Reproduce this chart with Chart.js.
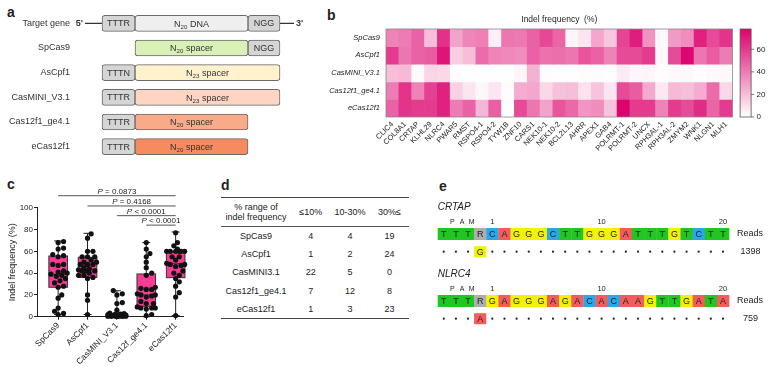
<!DOCTYPE html>
<html><head><meta charset="utf-8">
<script src="https://cdn.jsdelivr.net/npm/chart.js@4.4.1/dist/chart.umd.min.js"></script>
<style>
html,body{margin:0;padding:0;background:#fff;}
body{width:773px;height:367px;position:relative;overflow:hidden;font-family:"Liberation Sans",Arial,sans-serif;color:#222;}
canvas{position:absolute;}
.pl{position:absolute;font-weight:bold;font-size:14px;line-height:14px;}
.t{position:absolute;line-height:11px;white-space:nowrap;transform:translate(-50%,-50%);text-align:center;color:#222;}
.rule{position:absolute;}
</style></head><body>
<div class="pl" style="left:7px;top:5px">a</div>
<div class="pl" style="left:327px;top:8px">b</div>
<div class="pl" style="left:7px;top:177px">c</div>
<div class="pl" style="left:221px;top:178px">d</div>
<div class="pl" style="left:439px;top:179px">e</div>
<canvas id="ca" width="320" height="170" style="left:0;top:0;width:320px;height:170px"></canvas>
<canvas id="cb" width="453" height="170" style="left:320px;top:0;width:453px;height:170px"></canvas>
<canvas id="cc" width="200" height="197" style="left:0;top:170px;width:200px;height:197px"></canvas>
<canvas id="ce" width="343" height="197" style="left:430px;top:170px;width:343px;height:197px"></canvas>
<div id="tbl"></div>
<script>
const FF='"Liberation Sans", Arial, Helvetica, sans-serif';
Chart.defaults.font.family=FF;
Chart.defaults.color='#222';
Chart.defaults.animation=false;

// ================= DATA =================
// Panel a (schematic segments, lengths in schematic units)
const rowNamesA=['Target gene','SpCas9','AsCpf1','CasMINI_V3.1','Cas12f1_ge4.1','eCas12f1'];
const pam5Seg=[[0,33],null,[0,33],[0,33],[0,33],[0,33]];
const spacerSeg=[[33,146],[33,146],[33,178],[33,178],[33,146],[33,146]];
const pam3Seg=[[146,178],[146,178],null,null,null,null];
const pam5Text=['TTTR',null,'TTTN','TTTR','TTTR','TTTR'];
const spacerLen=['20','20','23','23','20','20'];
const spacerWord=[' DNA',' spacer',' spacer',' spacer',' spacer',' spacer'];
const pam3Text=['NGG','NGG',null,null,null,null];
const spacerColors=['#efefef','#d9f0b6','#fff2cc','#fdd5c2','#f9aa88','#f58b5e'];

// Panel b heatmap
const genes=['CLIC4','COL8A1','CRTAP','KLHL29','NLRC4','PWAR5','RMST','RSPO4-1','RSPO4-2','TYW1B','ZNF10','CARS1','NEK10-1','NEK10-2','BCL2L13','AHRR','APEX1','GAB4','POLRMT-1','POLRMT-2','UNCX','RPH3AL-1','RPH3AL-2','ZMYM2','WNK1','NLGN1','MLH1'];
const rowNamesB=['SpCas9','AsCpf1','CasMINI_V3.1','Cas12f1_ge4.1','eCas12f1'];
const spCas9 =[38,40,48,20,63,28,37,39,5,42,41,48,56,47,3,8,27,17,57,69,33,2,31,35,68,55,62];
const asCpf1 =[60,42,48,50,72,15,20,45,38,36,35,48,43,44,42,52,48,38,55,55,60,2,55,76,42,50,40];
const casMini=[20,21,1.5,13,12,0.5,0.3,0.2,0.4,0.3,2.5,24,0.8,0.5,0.6,1.0,1.2,0.8,6,2.8,3.2,1.0,1.5,2.0,0.9,1.5,2.2];
const cas12f1=[40,62,38,58,68,14,8,2,8,1,25,27,12,19,20,9,18,8,55,50,26,7,21,20,25,45,12];
const eCas12f1=[48,62,60,60,68,40,48,22,49,1,55,42,28,52,46,32,35,18,77,60,60,38,60,55,65,47,60];
const colorbarMax=78;
const colorbarTicks=[0,20,40,60];
const heatTitle='Indel frequency  (%)';

// Panel c box plot
const boxLabels=['SpCas9','AsCpf1','CasMINI_V3.1','Cas12f_ge4.1','eCas12f1'];
const boxMin=[2,2,0,0,1];
const boxQ1=[27,36,0.3,9.5,35.8];
const boxMed=[39,43.5,1,20,48.6];
const boxQ3=[55.7,54.5,3,39.2,59.7];
const boxMax=[69.5,76.5,23.8,68,77.7];
const yTicksC=[0,20,40,60,80,100];
const pFrom=[0,1,2,3], pTo=[4,4,4,4];
const pText=['= 0.0873','= 0.4168','< 0.0001','< 0.0001'];
const pLevel=[111,101.6,92.7,84];

// Panel d table
const tableHead=['\u226410%','10-30%','30%\u2264'];
const tableRows=['SpCas9','AsCpf1','CasMINI3.1','Cas12f1_ge4.1','eCas12f1'];
const cntLow=[4,1,22,7,1];
const cntMid=[4,2,5,12,3];
const cntHigh=[19,24,0,8,23];

// Panel e sequences
const seqNames=['CRTAP','NLRC4'];
const seqRef=['TTTRCAGGGCTTGGGATTTGTCTT','TTTRGAGGGAGACACAAGTTGATA'];
const seqMut=['G','A'];
const mutPos=3;
const seqReads=[1398,759];
const posLabels=['1','10','20'];
const posIndex=[4,13,23];

// ================= HELPERS =================
function heat(v){
  const t=Math.max(0,Math.min(1,v/colorbarMax));
  const r=Math.round(255+(220-255)*t), g=Math.round(255+(0-255)*t), b=Math.round(255+(108-255)*t);
  return `rgb(${r},${g},${b})`;
}
const noInt={legend:{display:false},tooltip:{enabled:false}};

// ================= PANEL A =================
function segData(seg){return seg.map((s,i)=>s?{y:rowNamesA[i],x:s,ri:i}:null).filter(Boolean);}
const greyFill='#d5d5d5';
function drawSubText(ctx,main,sub,rest,cx,cy,size){
  ctx.font=size+'px '+FF; const w1=ctx.measureText(main).width;
  ctx.font=(size*0.68)+'px '+FF; const w2=ctx.measureText(sub).width;
  ctx.font=size+'px '+FF; const w3=ctx.measureText(rest).width;
  let x=cx-(w1+w2+w3)/2; const base=cy+size*0.36;
  ctx.textAlign='left'; ctx.textBaseline='alphabetic';
  ctx.font=size+'px '+FF; ctx.fillText(main,x,base); x+=w1;
  ctx.font=(size*0.68)+'px '+FF; ctx.fillText(sub,x,base+2.2); x+=w2;
  ctx.font=size+'px '+FF; ctx.fillText(rest,x,base);
}
new Chart(document.getElementById('ca'),{
  type:'bar',
  data:{labels:rowNamesA,datasets:[
    {data:segData(pam5Seg),backgroundColor:greyFill},
    {data:segData(spacerSeg),backgroundColor:c=>spacerColors[c.raw?c.raw.ri:0]},
    {data:segData(pam3Seg),backgroundColor:greyFill}
  ].map(d=>Object.assign(d,{grouped:false,barThickness:16,borderWidth:1,borderColor:'#6a6a6a',borderRadius:3,borderSkipped:false}))},
  options:{indexAxis:'y',responsive:false,animation:false,events:[],
    layout:{padding:{top:11,bottom:11,left:0,right:0}},
    plugins:noInt,
    scales:{x:{type:'linear',min:-102,max:218,display:false},y:{type:'category',display:false}}},
  plugins:[{id:'schem',afterDatasetsDraw(chart){
    const ctx=chart.ctx,xs=chart.scales.x,ys=chart.scales.y;
    ctx.save(); ctx.fillStyle='#333';
    rowNamesA.forEach((n,i)=>{
      const y=ys.getPixelForValue(i);
      ctx.font='9px '+FF; ctx.textAlign='right'; ctx.textBaseline='middle';
      ctx.fillText(n,xs.getPixelForValue(-32),y);
      if(pam5Seg[i]&&pam5Text[i]){ctx.font='9px '+FF;ctx.textAlign='center';ctx.textBaseline='middle';
        ctx.fillText(pam5Text[i],xs.getPixelForValue((pam5Seg[i][0]+pam5Seg[i][1])/2),y+0.5);}
      if(pam3Seg[i]&&pam3Text[i]){ctx.font='9px '+FF;ctx.textAlign='center';ctx.textBaseline='middle';
        ctx.fillText(pam3Text[i],xs.getPixelForValue((pam3Seg[i][0]+pam3Seg[i][1])/2),y+0.5);}
      const s=spacerSeg[i];
      drawSubText(ctx,'N',spacerLen[i],spacerWord[i],xs.getPixelForValue((s[0]+s[1])/2),y,9);
    });
    // 5' and 3' ends of target gene
    const y0=ys.getPixelForValue(0);
    ctx.strokeStyle='#333'; ctx.lineWidth=1.3;
    ctx.beginPath(); ctx.moveTo(xs.getPixelForValue(-17),y0); ctx.lineTo(xs.getPixelForValue(0),y0);
    ctx.moveTo(xs.getPixelForValue(178),y0); ctx.lineTo(xs.getPixelForValue(192),y0); ctx.stroke();
    ctx.font='bold 9px '+FF; ctx.textBaseline='middle';
    ctx.textAlign='right'; ctx.fillText("5'",xs.getPixelForValue(-19),y0);
    ctx.textAlign='left'; ctx.fillText("3'",xs.getPixelForValue(194),y0);
    ctx.restore();
  }}]
});

// ================= PANEL B =================
const heatRows=[spCas9,asCpf1,casMini,cas12f1,eCas12f1];
new Chart(document.getElementById('cb'),{
  type:'bar',
  data:{labels:genes,datasets:heatRows.map((r,ri)=>({
    label:rowNamesB[ri],data:r.map(()=>[ri,ri+1]),backgroundColor:r.map(v=>heat(v)),
    grouped:false,barPercentage:1,categoryPercentage:1,borderWidth:0,yAxisID:'y'}))},
  options:{responsive:false,animation:false,events:[],
    layout:{padding:{top:29,left:0,right:0,bottom:0}},
    plugins:noInt,
    scales:{
      x:{grid:{display:false,drawTicks:false},border:{display:false},
         ticks:{font:{size:7.5},color:'#222',minRotation:45,maxRotation:45,autoSkip:false,padding:3},
         afterFit:s=>{s.height=53;}},
      y:{type:'linear',min:0,max:5,reverse:true,grid:{display:false,drawTicks:false},border:{display:false},
         afterBuildTicks:s=>{s.ticks=rowNamesB.map((n,i)=>({value:i+0.5}));},
         ticks:{callback:(v,i)=>rowNamesB[i],font:{size:7.5,style:'italic'},color:'#222',padding:6},
         afterFit:s=>{s.width=66;}},
      y2:{type:'linear',position:'right',min:0,max:colorbarMax,grid:{display:false,drawTicks:false},border:{display:false},
         afterBuildTicks:s=>{s.ticks=colorbarTicks.map(v=>({value:v}));},
         ticks:{font:{size:8},color:'#222',padding:24},
         afterFit:s=>{s.width=40.4;}}
    }},
  plugins:[{id:'heatdeco',afterDraw(chart){
    const ctx=chart.ctx,a=chart.chartArea,y2=chart.scales.y2;
    ctx.save();
    ctx.strokeStyle='#888'; ctx.lineWidth=0.8; ctx.strokeRect(a.left,a.top,a.right-a.left,a.bottom-a.top);
    const top=y2.getPixelForValue(colorbarMax), bot=y2.getPixelForValue(0);
    const x0=a.right+7.5, w=11;
    const g=ctx.createLinearGradient(0,bot,0,top);
    for(let k=0;k<=10;k++){g.addColorStop(k/10,heat(colorbarMax*k/10));}
    ctx.fillStyle=g; ctx.fillRect(x0,top,w,bot-top);
    ctx.strokeStyle='#555'; ctx.lineWidth=0.8; ctx.strokeRect(x0,top,w,bot-top);
    ctx.beginPath();
    colorbarTicks.forEach(v=>{const yy=y2.getPixelForValue(v); ctx.moveTo(x0+w,yy); ctx.lineTo(x0+w+3,yy);});
    ctx.stroke();
    ctx.fillStyle='#222'; ctx.font='8.5px '+FF; ctx.textAlign='center'; ctx.textBaseline='middle';
    ctx.fillText(heatTitle,(a.left+a.right)/2,20);
    ctx.restore();
  }}]
});

// ================= PANEL C =================
function swarm(vals){
  const PX_Y=1.09,PX_X=29.4,D=4.8,LIM=9;
  const order=vals.map((v,i)=>i).sort((a,b)=>vals[a]-vals[b]);
  const placed=[],out=new Array(vals.length);
  const cands=[0]; for(let s=1.8;s<=LIM+0.01;s+=1.8){cands.push(s,-s);}
  for(const i of order){
    let best=0,bestD=-1;
    for(const c of cands){
      let md=Infinity;
      for(const p of placed){const d=Math.hypot(p.x-c,(p.v-vals[i])*PX_Y); if(d<md) md=d;}
      if(md>=D){best=c;break;}
      if(md>bestD){bestD=md;best=c;}
    }
    placed.push({x:best,v:vals[i]}); out[i]=best/PX_X;
  }
  return out;
}
const pts=[];
heatRows.forEach((r,g)=>{const j=swarm(r); r.forEach((v,i)=>pts.push({x:g+j[i],y:v}));});
new Chart(document.getElementById('cc'),{
  type:'scatter',
  data:{datasets:[{data:pts,pointRadius:2.6,backgroundColor:'#111',borderWidth:0,clip:false}]},
  options:{responsive:false,animation:false,events:[],
    layout:{padding:{top:37.7,right:17,left:0,bottom:0}},
    plugins:noInt,
    scales:{
      x:{type:'linear',min:-0.72,max:4.25,
         afterBuildTicks:s=>{s.ticks=boxLabels.map((n,i)=>({value:i}));},
         grid:{drawOnChartArea:false,drawTicks:true,tickLength:3,color:'#222'},
         border:{display:true,color:'#222',width:1},
         ticks:{callback:(v,i)=>boxLabels[i],font:{size:8.5},color:'#222',minRotation:45,maxRotation:45,autoSkip:false,padding:1},
         afterFit:s=>{s.height=50.3;}},
      y:{type:'linear',min:0,max:100,
         afterBuildTicks:s=>{s.ticks=yTicksC.map(v=>({value:v}));},
         grid:{drawOnChartArea:false,drawTicks:true,tickLength:3,color:'#222'},
         border:{display:true,color:'#222',width:1},
         ticks:{font:{size:8},color:'#222',padding:1},
         title:{display:true,text:'Indel frequency (%)',font:{size:9},color:'#222',padding:{top:7.5,bottom:0}},
         afterFit:s=>{s.width=37;}}
    }},
  plugins:[{id:'boxes',beforeDatasetsDraw(chart){
    const ctx=chart.ctx,xs=chart.scales.x,ys=chart.scales.y;
    ctx.save();
    boxLabels.forEach((n,g)=>{
      const cx=xs.getPixelForValue(g), hw=9.3, cap=4;
      const yMin=ys.getPixelForValue(boxMin[g]),yQ1=ys.getPixelForValue(boxQ1[g]),yMed=ys.getPixelForValue(boxMed[g]),
            yQ3=ys.getPixelForValue(boxQ3[g]),yMax=ys.getPixelForValue(boxMax[g]);
      ctx.strokeStyle='#222'; ctx.lineWidth=1;
      ctx.beginPath(); ctx.moveTo(cx,yMax); ctx.lineTo(cx,yQ3); ctx.moveTo(cx,yQ1); ctx.lineTo(cx,yMin);
      ctx.moveTo(cx-cap,yMax); ctx.lineTo(cx+cap,yMax); ctx.moveTo(cx-cap,yMin); ctx.lineTo(cx+cap,yMin); ctx.stroke();
      ctx.fillStyle='#fa3c96'; ctx.fillRect(cx-hw,yQ3,2*hw,yQ1-yQ3);
      ctx.strokeStyle='#333'; ctx.strokeRect(cx-hw,yQ3,2*hw,yQ1-yQ3);
      ctx.beginPath(); ctx.moveTo(cx-hw,yMed); ctx.lineTo(cx+hw,yMed); ctx.stroke();
    });
    ctx.restore();
  },afterDraw(chart){
    const ctx=chart.ctx,xs=chart.scales.x,ys=chart.scales.y;
    ctx.save();
    pText.forEach((t,k)=>{
      const x1=xs.getPixelForValue(pFrom[k]),x2=xs.getPixelForValue(pTo[k]),y=ys.getPixelForValue(pLevel[k]);
      ctx.strokeStyle='#555'; ctx.lineWidth=1; ctx.beginPath(); ctx.moveTo(x1,y); ctx.lineTo(x2,y); ctx.stroke();
      ctx.fillStyle='#222'; ctx.textBaseline='alphabetic'; ctx.textAlign='left';
      ctx.font='italic 8px '+FF; const wP=ctx.measureText('P').width;
      ctx.font='8px '+FF; const wr=ctx.measureText(' '+t).width;
      let x=(x1+x2)/2-(wP+wr)/2;
      ctx.font='italic 8px '+FF; ctx.fillText('P',x,y-2);
      ctx.font='8px '+FF; ctx.fillText(' '+t,x+wP,y-2);
    });
    ctx.restore();
  }}]
});

// ================= PANEL D =================
const tbl=document.getElementById('tbl');
function addText(txt,x,y,size){const d=document.createElement('div');d.className='t';d.style.left=x+'px';d.style.top=y+'px';d.style.fontSize=size+'px';d.textContent=txt;tbl.appendChild(d);}
function addRule(x,y,w,h,c){const d=document.createElement('div');d.className='rule';d.style.cssText=`left:${x}px;top:${y}px;width:${w}px;height:${h}px;background:${c}`;tbl.appendChild(d);}
const colX=[256,310.7,350,389.5];
const rowY=[235.7,254,272.3,290.7,309];
addRule(221,196.5,188,1.4,'#444');
addRule(221,225.6,188,1,'#555');
addRule(221,317.6,188,1.4,'#444');
addText('% range of',colX[0],206.7,9);
addText('indel frequency',colX[0],217.2,9);
tableHead.forEach((h,i)=>addText(h,colX[i+1],212.3,9));
tableRows.forEach((r,i)=>{
  addText(r,colX[0],rowY[i],9);
  addText(String(cntLow[i]),colX[1],rowY[i],9);
  addText(String(cntMid[i]),colX[2],rowY[i],9);
  addText(String(cntHigh[i]),colX[3],rowY[i],9);
});

// ================= PANEL E =================
const baseColors={T:'#22c622',A:'#f25c5c',G:'#f2f200',C:'#29a7e8',R:'#adadad'};
new Chart(document.getElementById('ce'),{
  type:'scatter',data:{datasets:[]},
  options:{responsive:false,animation:false,events:[],layout:{padding:0},plugins:noInt,
    scales:{x:{type:'linear',min:-0.634,max:27.62,display:false},y:{type:'linear',min:0,max:197,reverse:true,display:false}}},
  plugins:[{id:'seq',afterDraw(chart){
    const ctx=chart.ctx,xs=chart.scales.x,ys=chart.scales.y;
    ctx.save();
    seqNames.forEach((name,bi)=>{
      const o=bi*67;
      ctx.fillStyle='#222'; ctx.textBaseline='middle';
      ctx.font='italic 10px '+FF; ctx.textAlign='left';
      ctx.fillText(name,xs.getPixelForValue(0),ys.getPixelForValue(37.7+o));
      ctx.font='7px '+FF; ctx.textAlign='center';
      ['P','A','M'].forEach((c,k)=>ctx.fillText(c,xs.getPixelForValue(1.2+0.8*k),ys.getPixelForValue(52.3+o)));
      ctx.font='7.5px '+FF;
      posLabels.forEach((p,k)=>ctx.fillText(p,xs.getPixelForValue(posIndex[k]+0.5),ys.getPixelForValue(52.3+o)));
      const seq=seqRef[bi];
      const yt=ys.getPixelForValue(58+o),yb=ys.getPixelForValue(70+o);
      for(let k=0;k<seq.length;k++){
        const x0=xs.getPixelForValue(k),x1=xs.getPixelForValue(k+1);
        ctx.fillStyle=baseColors[seq[k]]; ctx.fillRect(x0,yt,x1-x0+0.3,yb-yt);
      }
      ctx.fillStyle='#222'; ctx.font='9px '+FF; ctx.textAlign='center';
      for(let k=0;k<seq.length;k++){ctx.fillText(seq[k],xs.getPixelForValue(k+0.5),(yt+yb)/2+0.5);}
      // mutant row
      const yd=ys.getPixelForValue(81.7+o);
      for(let k=0;k<seq.length;k++){
        if(k===mutPos){
          const x0=xs.getPixelForValue(k),x1=xs.getPixelForValue(k+1);
          ctx.fillStyle=baseColors[seqMut[bi]]; ctx.fillRect(x0,yd-5.5,x1-x0,11);
          ctx.fillStyle='#222'; ctx.fillText(seqMut[bi],(x0+x1)/2,yd+0.5);
        } else {
          ctx.fillStyle='#222'; ctx.beginPath(); ctx.arc(xs.getPixelForValue(k+0.5),yd,1.1,0,Math.PI*2); ctx.fill();
        }
      }
      ctx.fillStyle='#222'; ctx.font='9px '+FF;
      ctx.textAlign='left'; ctx.fillText('Reads',xs.getPixelForValue(24.65),(yt+yb)/2);
      ctx.textAlign='center'; ctx.fillText(String(seqReads[bi]),xs.getPixelForValue(25.77),yd);
    });
    ctx.restore();
  }}]
});
</script>
</body></html>
